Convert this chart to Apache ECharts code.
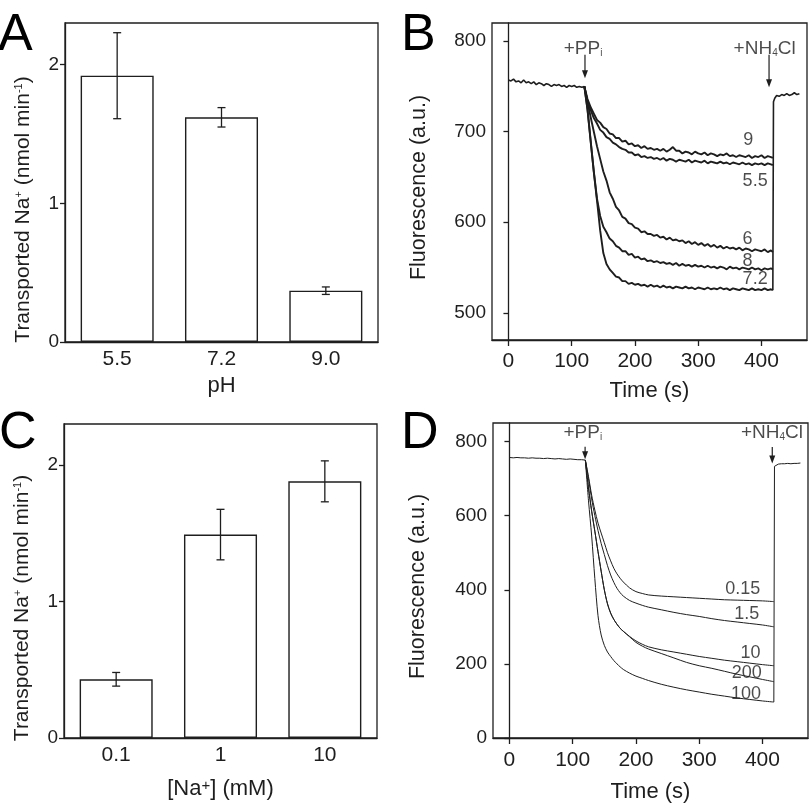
<!DOCTYPE html>
<html><head><meta charset="utf-8">
<script src="https://cdn.jsdelivr.net/npm/echarts@6/dist/echarts.min.js"></script>
<style>html,body{margin:0;padding:0;background:#fff}#c{width:810px;height:806px}</style>
</head><body><div id="c"></div>
<script>
const FONT = '"Liberation Sans", Arial, sans-serif';
const INK = '#1e1e1e';

// ---- Panel A: rate vs pH ----
const phCats = ['5.5', '7.2', '9.0'];
const phRate = [1.92, 1.62, 0.37];
const phErr = [0.31, 0.07, 0.027];

// ---- Panel C: rate vs [Na+] ----
const naCats = ['0.1', '1', '10'];
const naRate = [0.43, 1.49, 1.88];
const naErr = [0.05, 0.185, 0.15];

// ---- Panel B: fluorescence traces at different pH ----
const preBt = [0,4,8,12,16,20,24,28,32,36,40,44,48,52,56,60,64,68,72,76,80,84,88,92,96,100,104,108,112,116,120];
const preBv = [757,756,758,755,756,754,757,754,755,753,755,752,754,753,751,753,752,750,752,751,752,750,751,749,751,750,751,749,750,749,750];
const tB = [120,125,130,135,140,145,150,155,160,165,170,175,180,185,190,195,200,205,210,215,220,225,230,235,240,245,250,255,260,265,270,275,280,285,290,295,300,305,310,315,320,325,330,335,340,345,350,355,360,365,370,375,380,385,390,395,400,405,410,415,418];
const pH9 = [750,736,727,720,713,710,705,703,698,697, 693,693,689,690,686,687,684,685,682,684, 681,682,680,681,679,681,678,680,683,679, 679,676,678,677,675,678,676,675,677,674, 676,675,673,675,674,676,673,674,672,674, 673,672,674,671,673,672,674,671,673,672, 671];
const pH55 = [750,733,724,715,709,702,699,694,692,688, 686,683,681,680,677,677,674,675,672,673, 671,672,670,671,669,671,668,670,669,667, 669,668,667,669,666,668,667,666,668,665, 667,666,665,667,665,666,664,666,665,664, 666,664,665,663,665,664,665,663,665,664, 663];
const pH6 = [750,733,716,700,684,670,656,646,633,626, 617,613,606,604,599,598,594,593,589,590, 587,587,585,586,583,584,581,583,580,581, 579,580,577,579,576,578,575,577,574,576, 573,575,572,574,571,573,571,572,570,572, 569,571,570,568,570,569,568,570,567,569, 567];
const pH8 = [750,725,690,656,626,607,595,589,582,579, 574,572,568,568,564,565,561,562,559,560, 557,558,556,557,555,556,554,555,553,555, 552,554,552,553,551,553,551,552,550,552, 550,551,549,551,550,548,551,549,550,548, 550,549,548,550,548,549,547,549,548,549, 548];
const pH72 = [750,724,689,655,624,591,566,554,548,544, 540,539,535,535,532,533,531,532,530,531, 529,531,529,530,528,530,528,529,527,529, 528,527,529,527,528,526,528,527,526,528, 526,527,526,528,526,527,525,527,526,525, 527,526,525,527,525,526,525,527,525,526, 525];
const postBt = [418,419,421,424,428,432,436,440,444,448,452,456,460];
const postBv = [525,733,737,740,739,741,740,742,740,741,743,741,742];

// ---- Panel D: fluorescence traces at different [Na+] ----
const preDt = [0,6,12,18,24,30,36,42,48,54,60,66,72,78,84,90,96,102,108,114,120];
const preDv = [757,756,757,756,756,755,756,755,755,754,755,754,753,754,753,752,753,752,751,751,750];
const tD = [120,125,130,135,140,145,150,155,160,165,170,175,180,190,200,210,220,240,260,280,300,320,340,360,380,400,418];
const na015 = [750,705,655,615,580,553,527,500,478,458,443,431,421,405,395,390,386,383,381,379,377,375,373,372,371,370,368];
const na15 = [750,700,645,600,560,525,495,465,440,420,404,392,383,371,364,358,353,346,339,333,328,322,317,313,309,305,300];
const na10 = [750,675,612,558,503,450,400,362,337,320,307,296,288,274,262,253,246,238,232,226,220,215,210,206,202,198,195];
const na200 = [750,675,612,558,503,450,400,362,337,320,307,296,288,273,258,248,240,228,216,204,195,188,180,172,165,158,152];
const na100 = [750,640,545,430,330,278,250,232,220,209,200,192,185,175,167,161,155,145,137,130,124,118,113,108,104,100,97];
const postDt = [418,419,421,425,430,435,440,445,450,455,460];
const postDv = [97,733,737,739,740,740,741,740,741,741,742];

// ---- annotations (text, time, fluorescence) ----
const labelsB = [['9',379,691],['5.5',390,645],['6',378,582],['8',378,557],['7.2',390,537]];
const labelsD = [['0.15',369,402],['1.5',375,335],['10',381,229],['200',375,175],['100',374,118]];
const eventsB = [['{n|+PP}{s|i}',118,792],['{n|+NH}{s|4}{n|Cl}',405,792]];
const eventsD = [['{n|+PP}{s|i}',116,823],['{n|+NH}{s|4}{n|Cl}',415,823]];
const arrowsB = [[121,785,759],[412,785,749]];
const arrowsD = [[119.6,786,752],[415.5,785,741]];

const pairs = (xs, ys) => xs.map((x, i) => [x, ys[i]]);

const axLine = {show: true, lineStyle: {color: INK, width: 1.3}};
const tickStyle = {color: INK, width: 1.3};
const nameRich = {
  sup: {fontSize: 11, color: INK, fontFamily: FONT, verticalAlign: 'top'},
  sp: {fontSize: 15, color: INK, fontFamily: FONT, verticalAlign: 'top'}
};

function valAxis(gi, min, max, ticks, extra) {
  return Object.assign({
    gridIndex: gi, type: 'value', min: min, max: max,
    axisLine: axLine,
    axisTick: {show: true, inside: false, length: 5, customValues: ticks, lineStyle: tickStyle},
    axisLabel: {customValues: ticks, fontSize: 19, color: INK, fontFamily: FONT, margin: 6},
    splitLine: {show: false},
    nameLocation: 'middle',
    nameTextStyle: {fontSize: 22, color: INK, fontFamily: FONT, rich: nameRich}
  }, extra);
}
function catAxis(gi, cats, name, gap) {
  return {
    gridIndex: gi, type: 'category', data: cats,
    axisLine: axLine, axisTick: {show: false},
    axisLabel: {fontSize: 21, color: INK, fontFamily: FONT, margin: 7},
    name: name, nameLocation: 'middle', nameGap: gap,
    nameTextStyle: {fontSize: 22, color: INK, fontFamily: FONT, rich: nameRich}
  };
}
function timeAxis(gi, gap, margin) {
  const ticks = [0, 100, 200, 300, 400];
  return valAxis(gi, -26, 472, ticks, {name: 'Time (s)', nameGap: gap,
    axisTick: {show: true, length: 6, customValues: ticks, lineStyle: tickStyle},
    axisLabel: {customValues: ticks, fontSize: 21, color: INK, fontFamily: FONT, margin: margin}});
}

function barSeries(gi, vals) {
  return {type: 'bar', xAxisIndex: gi, yAxisIndex: gi, data: vals, barWidth: '70%',
    itemStyle: {color: '#fff', borderColor: INK, borderWidth: 1.4}, silent: true};
}
function errSeries(gi, vals, errs) {
  return {type: 'custom', xAxisIndex: gi, yAxisIndex: gi, z: 5, silent: true,
    data: vals.map((v, i) => [i, v - errs[i], v + errs[i]]),
    renderItem: function (params, api) {
      const lo = api.coord([api.value(0), api.value(1)]);
      const hi = api.coord([api.value(0), api.value(2)]);
      const hw = 4, st = {stroke: INK, lineWidth: 1.3};
      return {type: 'group', children: [
        {type: 'line', shape: {x1: lo[0], y1: lo[1], x2: hi[0], y2: hi[1]}, style: st},
        {type: 'line', shape: {x1: lo[0] - hw, y1: lo[1], x2: lo[0] + hw, y2: lo[1]}, style: st},
        {type: 'line', shape: {x1: hi[0] - hw, y1: hi[1], x2: hi[0] + hw, y2: hi[1]}, style: st}
      ]};
    }};
}
function traceSeries(gi, xs, ys, w, smooth) {
  return {type: 'line', xAxisIndex: gi, yAxisIndex: gi, data: pairs(xs, ys), showSymbol: false, symbol: 'none',
    smooth: smooth ? 0.3 : false, lineStyle: {color: INK, width: w}, silent: true};
}
function arrowSeries(gi, arrows) {
  return {type: 'custom', xAxisIndex: gi, yAxisIndex: gi, z: 6, silent: true, data: arrows,
    renderItem: function (params, api) {
      const a = api.coord([api.value(0), api.value(1)]);
      const b = api.coord([api.value(0), api.value(2)]);
      return {type: 'group', children: [
        {type: 'line', shape: {x1: a[0], y1: a[1], x2: b[0], y2: b[1] - 6}, style: {stroke: INK, lineWidth: 1.2}},
        {type: 'polygon', shape: {points: [[b[0] - 3, b[1] - 8], [b[0] + 3, b[1] - 8], [b[0], b[1]]]}, style: {fill: INK}}
      ]};
    }};
}
function textSeries(gi, items, size) {
  return {type: 'scatter', xAxisIndex: gi, yAxisIndex: gi, symbolSize: 1, silent: true, z: 7,
    itemStyle: {color: 'rgba(0,0,0,0)'},
    data: items.map(it => ({value: [it[1], it[2]], name: it[0]})),
    label: {show: true, position: 'inside', formatter: p => p.name, fontSize: size, color: INK, fontFamily: FONT,
      rich: {n: {fontSize: size, color: INK, fontFamily: FONT},
             s: {fontSize: 10, color: INK, fontFamily: FONT, verticalAlign: 'bottom'}}}};
}

const chart = echarts.init(document.getElementById('c'), null, {renderer: 'canvas'});
const gridBase = {show: true, borderColor: INK, borderWidth: 1.3, backgroundColor: 'transparent', containLabel: false, outerBoundsMode: 'none'};
const letter = (t, l, tp) => ({text: t, left: l, top: tp, padding: 0,
  textStyle: {fontSize: 52, fontWeight: 'normal', color: '#000', fontFamily: FONT}});
const rateName = {fontSize: 21, color: INK, fontFamily: FONT, rich: nameRich, padding: [0, 54, 0, 0]};
const fluoName = {fontSize: 21.5, color: INK, fontFamily: FONT, padding: [0, 12, 0, 0]};
chart.setOption({
  animation: false,
  backgroundColor: '#fff',
  title: [letter('A', -2, 10), letter('B', 401, 10), letter('C', -1, 408), letter('D', 401, 408)],
  grid: [
    Object.assign({left: 65, top: 23, width: 313, height: 319}, gridBase),
    Object.assign({left: 492, top: 23, width: 315, height: 317}, gridBase),
    Object.assign({left: 64, top: 424, width: 313, height: 314}, gridBase),
    Object.assign({left: 493, top: 423, width: 315, height: 315}, gridBase)
  ],
  xAxis: [
    catAxis(0, phCats, 'pH', 33),
    timeAxis(1, 40, 11),
    catAxis(2, naCats, '[Na{sp|+}] (mM)', 40),
    timeAxis(3, 43, 12)
  ],
  yAxis: [
    valAxis(0, 0, 2.3, [0, 1, 2], {name: 'Transported Na{sup|+} (nmol min{sup|-1})', nameGap: 31, nameTextStyle: rateName}),
    valAxis(1, 470, 820, [500, 600, 700, 800], {name: 'Fluorescence (a.u.)', nameGap: 62, nameTextStyle: fluoName}),
    valAxis(2, 0, 2.3, [0, 1, 2], {name: 'Transported Na{sup|+} (nmol min{sup|-1})', nameGap: 31, nameTextStyle: rateName}),
    valAxis(3, 0, 850, [0, 200, 400, 600, 800], {name: 'Fluorescence (a.u.)', nameGap: 64, nameTextStyle: fluoName})
  ],
  series: [
    barSeries(0, phRate), errSeries(0, phRate, phErr),
    barSeries(2, naRate), errSeries(2, naRate, naErr),
    traceSeries(1, preBt, preBv, 1.6, false),
    traceSeries(1, tB, pH9, 1.9, false),
    traceSeries(1, tB, pH55, 1.9, false),
    traceSeries(1, tB, pH6, 1.9, false),
    traceSeries(1, tB, pH8, 1.9, false),
    traceSeries(1, tB, pH72, 1.9, false),
    traceSeries(1, postBt, postBv, 1.6, false),
    traceSeries(3, preDt, preDv, 1, false),
    traceSeries(3, tD, na015, 1, true),
    traceSeries(3, tD, na15, 1, true),
    traceSeries(3, tD, na10, 1, true),
    traceSeries(3, tD, na200, 1, true),
    traceSeries(3, tD, na100, 1, true),
    traceSeries(3, postDt, postDv, 1, false),
    textSeries(1, labelsB, 18), textSeries(3, labelsD, 18),
    textSeries(1, eventsB, 19), textSeries(3, eventsD, 19),
    arrowSeries(1, arrowsB), arrowSeries(3, arrowsD)
  ]
});
</script></body></html>
